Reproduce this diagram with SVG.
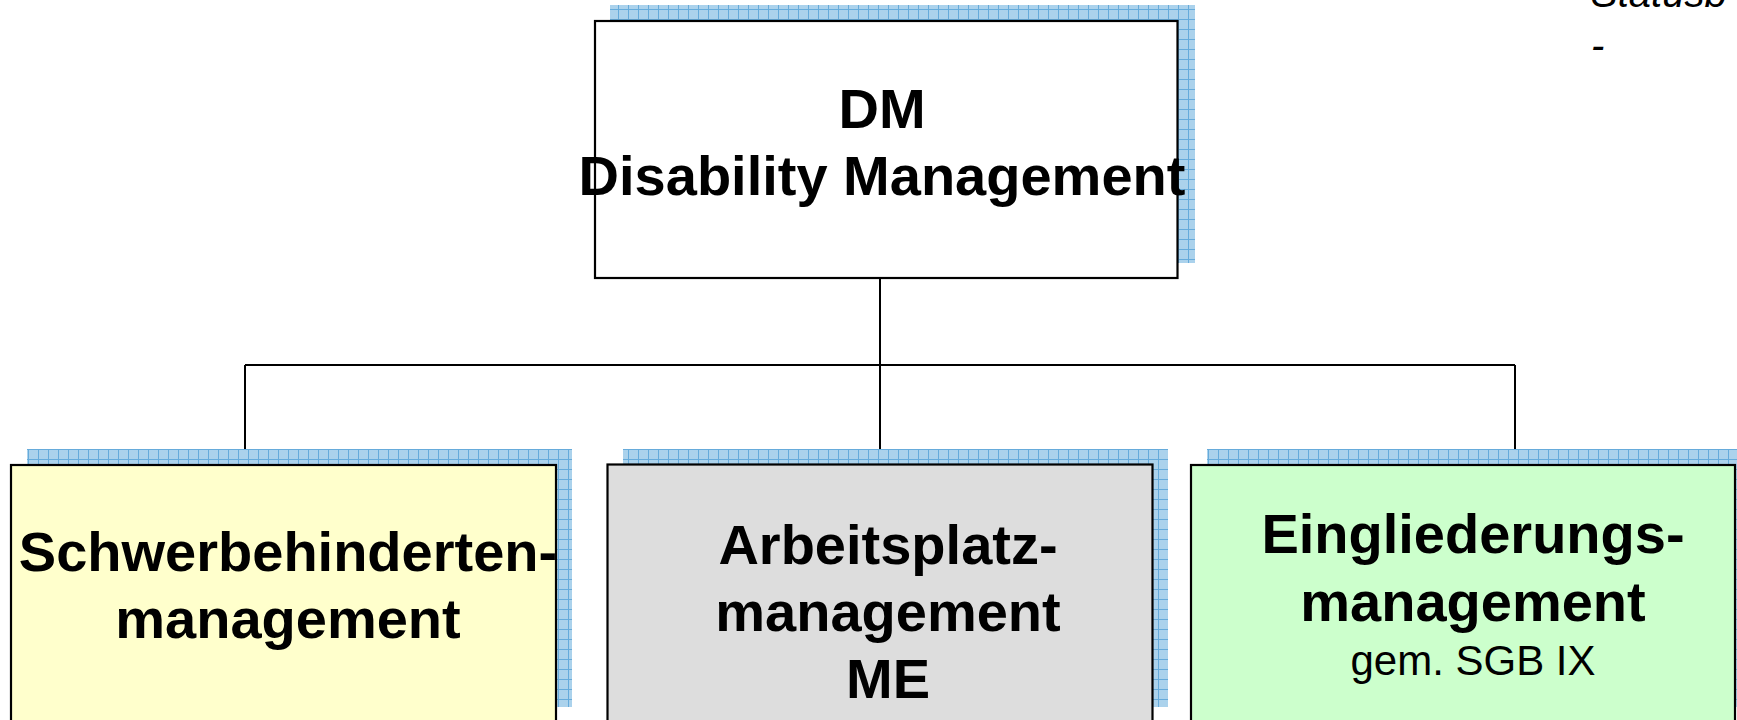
<svg xmlns="http://www.w3.org/2000/svg" width="1737" height="720" viewBox="0 0 1737 720">
<defs>
<pattern id="grid" width="10" height="10" patternUnits="userSpaceOnUse" x="8" y="9">
<rect width="10" height="10" fill="#ABD2EC"/>
<path d="M0 0.5H10M0.5 0V10" stroke="#66ABDB" stroke-width="1" fill="none"/>
</pattern>
<style>
.shadow{fill:url(#grid);}
.box{stroke:#000;stroke-width:2.2;}
.b{font-family:"Liberation Sans",Arial,sans-serif;font-weight:bold;font-size:56px;fill:#000;text-anchor:middle;}
.r{font-family:"Liberation Sans",Arial,sans-serif;font-size:42px;fill:#000;text-anchor:middle;}
.it{font-family:"Liberation Sans",Arial,sans-serif;font-style:italic;font-size:40px;fill:#000;}
.conn{stroke:#000;stroke-width:2;fill:none;}
</style>
</defs>
<rect width="1737" height="720" fill="#fff"/>

<g id="statusb">
<text class="it" x="1591" y="6.5">Statusb</text>
<text class="it" x="1591" y="59">-</text>
</g>

<g id="connectors">
<path class="conn" d="M880 278V365M245 365H1515M245 365V465M880 365V465M1515 365V465"/>
</g>

<g id="dm">
<rect class="shadow" x="610" y="5" width="585" height="258"/>
<rect class="box" x="595" y="21" width="582.5" height="257" fill="#fff"/>
<text class="b" x="882" y="128">DM</text>
<text class="b" x="882" y="195">Disability Management</text>
</g>

<g id="schwerbehinderten">
<rect class="shadow" x="27" y="449" width="545" height="258"/>
<rect class="box" x="11" y="465" width="545" height="258" fill="#FFFFCC"/>
<text class="b" x="288" y="571">Schwerbehinderten-</text>
<text class="b" x="288" y="638">management</text>
</g>

<g id="arbeitsplatz">
<rect class="shadow" x="623" y="449" width="545" height="258"/>
<rect class="box" x="607.5" y="464.5" width="545" height="258" fill="#DDDDDD"/>
<text class="b" x="888" y="564">Arbeitsplatz-</text>
<text class="b" x="888" y="631">management</text>
<text class="b" x="888" y="698">ME</text>
</g>

<g id="eingliederung">
<rect class="shadow" x="1207" y="449" width="544" height="258"/>
<rect class="box" x="1191" y="465" width="544" height="258" fill="#CCFFCC"/>
<text class="b" x="1473" y="553">Eingliederungs-</text>
<text class="b" x="1473" y="621">management</text>
<text class="r" x="1473" y="675">gem. SGB IX</text>
</g>
</svg>
